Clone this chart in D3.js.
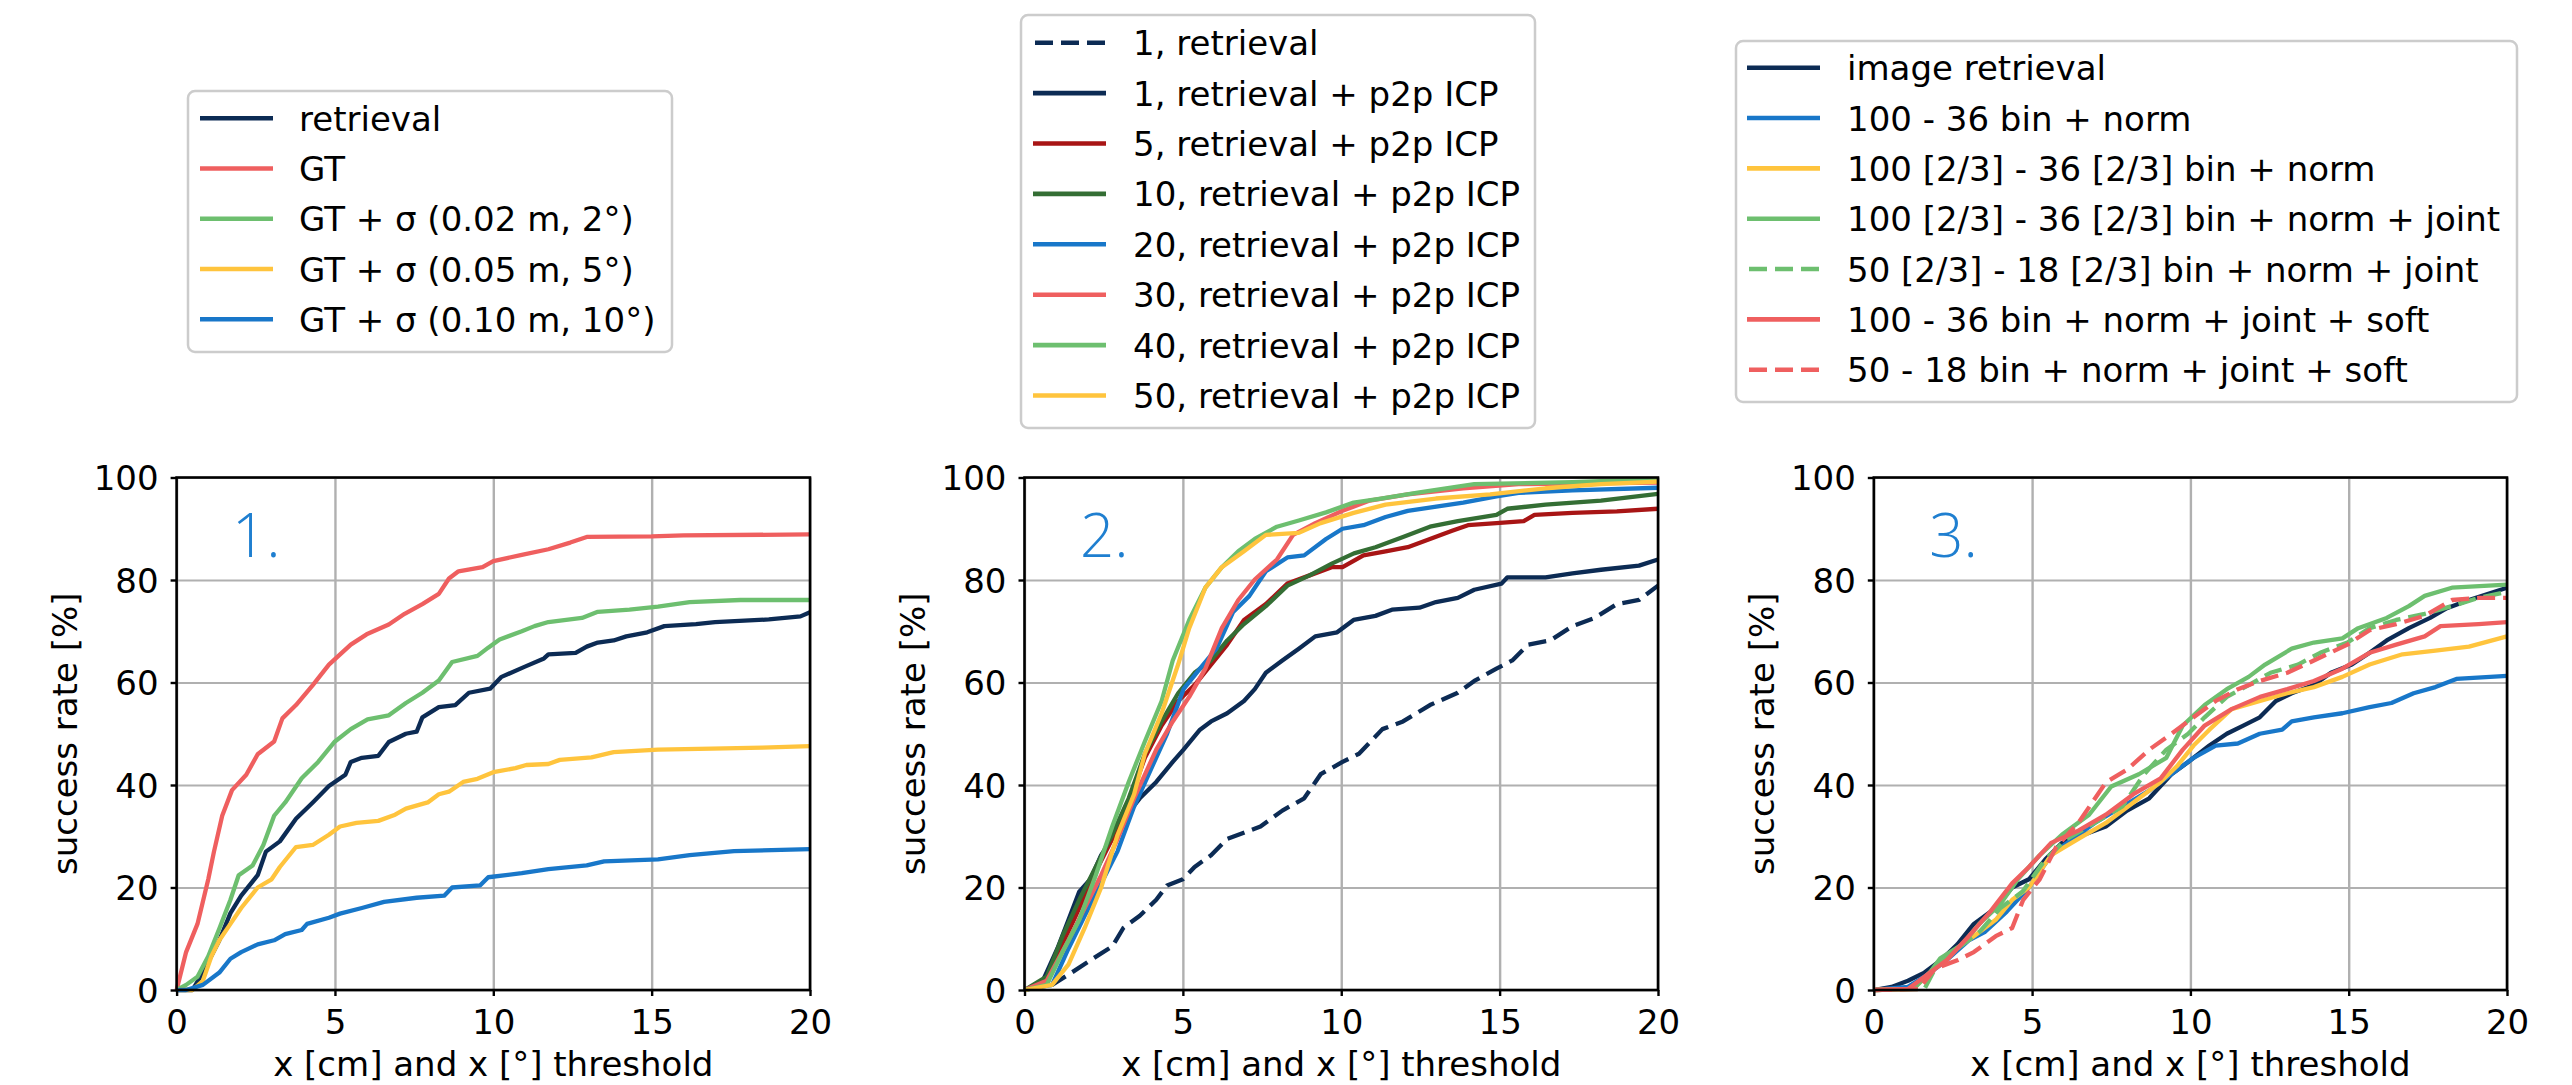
<!DOCTYPE html>
<html>
<head>
<meta charset="utf-8">
<script src="https://cdn.jsdelivr.net/npm/d3@7"></script>
<style>
  html, body { margin: 0; padding: 0; background: #fff; }
  svg { display: block; }
</style>
</head>
<body>
<div id="chart"></div>
<script>
// ---- data ----
const xTicks = [0, 5, 10, 15, 20];
const yTicks = [0, 20, 40, 60, 80, 100];
const xLabel = 'x [cm] and x [°] threshold';
const yLabel = 'success rate [%]';
const panelNames = ['1.', '2.', '3.'];

// panel 1
const p1Retrieval = [[0,0],[0.5,0],[0.83,3.4],[1.35,9.7],[1.7,15],[2.04,18.4],[2.56,22.4],[2.82,27],[3.26,29],[3.77,33.4],[4.3,36.6],[4.81,39.8],[5.33,42],[5.5,44.5],[5.85,45.3],[6.37,45.7],[6.7,48.4],[7.24,50],[7.58,50.4],[7.76,53.2],[8.28,55.2],[8.8,55.6],[9.23,58],[9.9,58.8],[10.26,61.1],[11.0,63.1],[11.6,64.7],[11.74,65.5],[12.6,65.8],[12.95,67],[13.3,67.8],[13.8,68.2],[14.2,69],[14.86,69.8],[15.4,71],[16.4,71.4],[17,71.8],[18.7,72.3],[19.7,72.9],[20,73.7]];
const p1GT = [[0,0],[0.3,7.4],[0.66,12.9],[1.0,21.6],[1.18,27],[1.44,34],[1.75,39],[2.2,42],[2.56,46],[3.08,48.5],[3.34,53],[3.77,55.6],[4.3,59.5],[4.81,63.5],[5.5,67.4],[6.0,69.4],[6.7,71.3],[7.2,73.4],[7.76,75.3],[8.28,77.3],[8.6,80.3],[8.9,81.7],[9.66,82.5],[10,83.7],[10.9,84.9],[11.74,86],[12.43,87.3],[12.95,88.4],[15,88.5],[16,88.7],[20,88.9]];
const p1Sigma2 = [[0,0],[0.3,1],[0.66,2.6],[1.0,6.6],[1.35,12],[1.7,17.6],[1.96,22.4],[2.4,24.3],[2.74,28.3],[3.08,34],[3.43,36.6],[3.95,41.3],[4.47,44.5],[5.0,48.5],[5.5,50.9],[6.03,52.8],[6.7,53.6],[7.24,56],[7.76,58],[8.28,60.4],[8.7,64],[9.5,65.2],[9.84,66.8],[10.2,68.4],[10.9,70],[11.3,71],[11.74,71.8],[12.8,72.6],[13.3,73.8],[14.3,74.2],[15.2,74.8],[16.2,75.7],[17.8,76.1],[20,76.1]];
const p1Sigma5 = [[0,0],[0.5,0],[0.83,1.8],[1.1,6.6],[1.35,9.7],[1.7,12.9],[2.04,16],[2.56,20],[3.0,21.6],[3.26,24],[3.77,27.9],[4.3,28.3],[4.81,30.3],[5.16,31.9],[5.68,32.6],[6.37,33],[6.9,34.2],[7.24,35.4],[7.93,36.6],[8.28,38.2],[8.6,38.7],[9.05,40.6],[9.5,41.2],[10.0,42.5],[10.7,43.3],[11.04,43.9],[11.74,44.1],[12.1,44.9],[13.1,45.4],[13.8,46.4],[15.2,46.9],[16.9,47.1],[18.5,47.3],[20,47.6]];
const p1Sigma10 = [[0,0],[0.3,0],[0.83,1],[1.35,3.4],[1.7,6.1],[2.04,7.4],[2.56,8.9],[3.08,9.7],[3.43,10.9],[3.95,11.7],[4.12,12.9],[4.81,14.1],[5.16,14.9],[5.85,16],[6.55,17.2],[7.58,18],[8.45,18.4],[8.7,20],[9.58,20.4],[9.84,22],[10.9,22.8],[11.74,23.6],[12.95,24.3],[13.5,25.1],[15.2,25.5],[16.2,26.3],[17.6,27.1],[20,27.5]];

// panel 2
const p2Ret1 = [[0,0],[0.87,1],[1.39,3],[2.08,5.8],[2.77,8.5],[3.12,12.1],[3.64,14.5],[4.16,17.6],[4.5,20.4],[5.0,21.6],[5.37,24],[5.89,26.3],[6.4,29.5],[7.45,31.9],[8.14,35],[8.83,37.4],[9.35,42.1],[10.04,44.5],[10.56,46.1],[11.3,50.9],[11.95,52.4],[12.8,55.6],[13.68,58],[14.2,60.3],[14.9,62.7],[15.4,64.3],[15.9,67.4],[16.6,68.2],[17.3,71],[18,72.6],[18.7,75.3],[19.4,76.1],[20,78.9]];
const p2Icp1 = [[0,0],[0.52,1],[1.04,8.1],[1.39,13.7],[1.73,19.2],[2.08,21.6],[2.42,26.3],[2.77,29.5],[3.12,33.4],[3.64,37.4],[4.16,40.6],[4.68,44.5],[5.02,46.9],[5.54,50.8],[5.89,52.4],[6.4,54],[6.93,56.4],[7.27,58.7],[7.62,61.9],[8.14,64.3],[8.66,66.6],[9.18,69],[9.87,69.8],[10.39,72.2],[11.08,73],[11.6,74.2],[12.47,74.6],[12.99,75.7],[13.68,76.5],[14.2,78.1],[15.06,79.3],[15.24,80.5],[16.45,80.5],[17.3,81.3],[18.2,82],[19.4,82.8],[20,84]];
const p2Icp5 = [[0,0],[0.7,1],[1.2,8.9],[1.73,16],[2.25,23.1],[2.77,29.5],[3.29,36.6],[3.8,45.3],[4.33,51.6],[4.85,56.4],[5.37,59.5],[5.89,63.5],[6.4,67.4],[6.93,72.2],[7.62,75.3],[8.3,79.3],[9.0,80.9],[9.7,82.5],[10.04,82.5],[10.7,84.8],[11.4,85.6],[12.1,86.4],[12.8,88],[13.5,89.6],[14,90.7],[14.9,91.1],[15.76,91.5],[16.1,92.7],[17.3,93.1],[18.7,93.4],[20,93.9]];
const p2Icp10 = [[0,0],[0.7,2.6],[1.2,10.5],[1.73,17.6],[2.25,24],[2.77,30.3],[3.29,37.4],[3.8,46.1],[4.33,52.4],[4.85,57.9],[5.37,61.9],[5.89,64.3],[6.4,68.2],[6.93,71.4],[7.62,74.9],[8.3,78.9],[9,80.9],[9.7,83.2],[10.4,85.2],[11.08,86.4],[11.95,88.4],[12.8,90.4],[13.68,91.5],[14.9,92.7],[15.24,93.9],[16.45,94.7],[18.2,95.5],[20,96.8]];
const p2Icp20 = [[0,0],[0.87,1],[1.39,8.1],[1.9,14.5],[2.42,20.8],[2.94,27.1],[3.46,35.8],[3.98,42.9],[4.5,50],[5.02,58.7],[5.54,62.7],[6.06,66.6],[6.58,73.7],[7.1,76.9],[7.62,81.7],[8.3,84.4],[8.83,84.8],[9.52,88],[10.04,90],[10.7,90.7],[11.4,92.3],[12.1,93.5],[13,94.3],[13.85,95.1],[14.9,96.3],[15.6,97],[17.3,97.5],[20,98]];
const p2Icp30 = [[0,0],[0.7,1.8],[1.39,9.7],[1.9,16],[2.42,22.4],[2.94,29.5],[3.46,37.4],[4.16,46.9],[4.68,52.4],[5.2,57.2],[5.71,62.7],[6.23,70.6],[6.75,76.1],[7.27,80.1],[7.97,84],[8.48,88.8],[9.18,91.1],[10.04,93.5],[10.9,95.5],[12.1,96.7],[13.85,97.9],[15.6,98.7],[20,99]];
const p2Icp40 = [[0,0],[0.7,1],[1.2,7.4],[1.73,13.7],[2.25,22.4],[2.77,31.9],[3.29,40.6],[3.8,48.5],[4.33,56.4],[4.68,64.3],[5.2,72.2],[5.71,78.5],[6.23,82.5],[6.75,85.6],[7.27,88],[7.97,90.4],[8.66,91.6],[9.52,93.2],[10.39,95.1],[11.25,95.9],[12.47,97.1],[14.2,98.7],[17.3,99.1],[20,99.7]];
const p2Icp50 = [[0,0],[0.87,1],[1.39,5],[1.9,12.1],[2.42,20],[2.94,30.3],[3.46,38.2],[3.8,46.1],[4.33,54],[4.85,63.5],[5.2,70.6],[5.71,78.5],[6.23,82.5],[6.93,85.6],[7.62,88.8],[8.66,89.2],[9.35,91.1],[10.39,93.1],[11.4,94.7],[12.99,95.9],[14.7,96.7],[16.45,97.9],[18.2,98.7],[20,99.2]];

// panel 3
const p3Image = [[0,0],[0.56,0.6],[1.08,1.8],[1.6,3.4],[2.12,5.8],[2.64,8.9],[3.16,12.9],[3.85,16],[4.37,20],[4.9,21.6],[5.42,25.5],[5.94,28.7],[6.63,30.3],[7.33,31.9],[8.0,35],[8.7,37.4],[9.4,42.1],[9.93,44.5],[10.6,47.7],[11.15,50],[11.67,51.6],[12.19,53.2],[12.7,56.4],[13.2,57.9],[13.9,59.5],[14.44,61.9],[15.1,63.5],[15.66,65.8],[16.2,68.2],[16.9,70.6],[17.57,72.6],[18.1,74.5],[18.8,76.1],[20,78.5]];
const p3Bin100 = [[0,0],[1.08,0.6],[1.6,2.6],[2.3,5.8],[3.0,9.7],[3.5,11.3],[4.2,15.3],[4.9,20],[5.6,26.3],[6.28,29.5],[6.98,32.6],[7.85,35.8],[8.7,38.9],[9.58,42.9],[10.1,45.3],[10.8,47.7],[11.5,48.1],[12.19,50],[12.9,50.8],[13.2,52.4],[13.9,53.2],[14.8,54],[15.66,55.2],[16.35,56],[17.05,57.9],[17.74,59.1],[18.4,60.7],[20,61.3]];
const p3Bin100r = [[0,0],[1.25,0.2],[1.77,3.4],[2.46,7.4],[3.16,10.5],[3.85,13.7],[4.37,17.6],[4.9,20],[5.6,26.3],[6.46,29.5],[7.33,32.6],[8.2,36.6],[9.06,40.6],[9.58,43.7],[10.1,47.7],[10.6,50.8],[11.3,54.8],[12.2,56.4],[13.06,57.9],[13.9,59.1],[14.8,61.1],[15.66,63.5],[16.7,65.5],[17.74,66.2],[18.8,67],[20,69]];
const p3Joint100r = [[0,0],[1.25,0.2],[1.77,3.4],[2.1,6.2],[2.8,8.9],[3.33,12.9],[4.0,16.8],[4.55,21.6],[5.24,26.3],[5.94,30.3],[6.8,34.2],[7.5,39.7],[8.37,42.1],[9.24,45.3],[9.76,51.6],[10.45,55.6],[11.15,58.7],[11.84,61.1],[12.36,63.5],[13.2,66.6],[13.9,67.8],[14.8,68.6],[15.3,70.6],[16.2,72.6],[16.9,74.9],[17.4,76.9],[18.26,78.5],[20,79.1]];
const p3Joint50r = [[0,0],[1.6,0.2],[1.94,4.2],[2.64,8.1],[3.33,11.3],[4.0,16],[4.7,19.2],[5.42,25.5],[6.1,29.5],[6.98,32.6],[7.85,35.8],[8.54,42.1],[9.24,46.9],[9.93,50],[10.45,53.2],[11.15,57.2],[11.84,59.5],[12.53,61.9],[13.4,63.5],[14.1,65.8],[14.96,67.8],[15.66,70.6],[16.5,72.2],[17.4,73.4],[18.26,74.9],[19.1,76.5],[20,77.7]];
const p3Soft100 = [[0,0],[1.08,0.2],[1.6,2.6],[2.3,5.8],[3.0,10.5],[3.68,15.3],[4.37,20.8],[4.9,24],[5.6,28.7],[6.46,31.1],[7.33,34.2],[8.2,38.2],[9.06,41.3],[9.76,46.9],[10.45,51.6],[11.3,54.8],[12.2,57.2],[13.06,58.7],[13.9,60.3],[14.8,62.7],[15.66,65.8],[16.5,67.4],[17.4,69],[17.9,71],[19.1,71.4],[20,71.8]];
const p3Soft50 = [[0,0],[1.42,0.2],[1.94,4.2],[2.64,5.8],[3.16,7.4],[3.85,10.5],[4.37,12.1],[4.72,17.6],[5.24,21.6],[5.76,27.9],[6.46,32.6],[7.33,40.5],[8.0,43],[8.7,46.9],[9.4,50],[10.1,53.2],[10.8,56.4],[11.5,58.7],[12.19,60.3],[13.06,61.9],[13.9,64.3],[14.96,67.4],[15.66,70.2],[16.5,71.4],[17.4,73],[18.26,76.1],[19.1,76.5],[20,76.5]];

// legend labels per panel
const labels1 = ['retrieval', 'GT', 'GT + σ (0.02 m, 2°)', 'GT + σ (0.05 m, 5°)', 'GT + σ (0.10 m, 10°)'];
const labels2 = ['1, retrieval', '1, retrieval + p2p ICP', '5, retrieval + p2p ICP', '10, retrieval + p2p ICP',
                 '20, retrieval + p2p ICP', '30, retrieval + p2p ICP', '40, retrieval + p2p ICP', '50, retrieval + p2p ICP'];
const labels3 = ['image retrieval', '100 - 36 bin + norm', '100 [2/3] - 36 [2/3] bin + norm',
                 '100 [2/3] - 36 [2/3] bin + norm + joint', '50 [2/3] - 18 [2/3] bin + norm + joint',
                 '100 - 36 bin + norm + joint + soft', '50 - 18 bin + norm + joint + soft'];

// ---- styling ----
const C = {
  navy: '#0c2b54', coral: '#ef5f5f', green: '#6dbf6f', yellow: '#ffc43d',
  blue: '#1877c9', darkRed: '#a81515', darkGreen: '#346e34'
};
const FONT = 'DejaVu Sans, sans-serif';
const FS = 34;
const W = 2572, H = 1085;
const AX_TOP = 477.5, AX_BOTTOM = 990;
const DASH = '18,8';

const panels = [
  { left: 176.6, right: 810, name: panelNames[0],
    series: [
      { data: p1Retrieval, color: C.navy },
      { data: p1GT, color: C.coral },
      { data: p1Sigma2, color: C.green },
      { data: p1Sigma5, color: C.yellow },
      { data: p1Sigma10, color: C.blue },
    ],
    labels: labels1,
    legend: { x0: 188, x1: 672, y0: 91, y1: 352, row0: 118.3, step: 50.25, hx0: 200, hx1: 273, tx: 299 } },
  { left: 1024.5, right: 1658, name: panelNames[1],
    series: [
      { data: p2Ret1, color: C.navy, dash: true },
      { data: p2Icp1, color: C.navy },
      { data: p2Icp5, color: C.darkRed },
      { data: p2Icp10, color: C.darkGreen },
      { data: p2Icp20, color: C.blue },
      { data: p2Icp30, color: C.coral },
      { data: p2Icp40, color: C.green },
      { data: p2Icp50, color: C.yellow },
    ],
    labels: labels2,
    legend: { x0: 1021, x1: 1535, y0: 15, y1: 428, row0: 42.7, step: 50.4, hx0: 1033, hx1: 1106, tx: 1133 } },
  { left: 1873.8, right: 2507, name: panelNames[2],
    series: [
      { data: p3Image, color: C.navy },
      { data: p3Bin100, color: C.blue },
      { data: p3Bin100r, color: C.yellow },
      { data: p3Joint100r, color: C.green },
      { data: p3Joint50r, color: C.green, dash: true },
      { data: p3Soft100, color: C.coral },
      { data: p3Soft50, color: C.coral, dash: true },
    ],
    labels: labels3,
    legend: { x0: 1736, x1: 2517, y0: 41, y1: 402, row0: 67.7, step: 50.33, hx0: 1747, hx1: 1820, tx: 1847 } },
];

const svg = d3.select('#chart').append('svg')
  .attr('width', W).attr('height', H)
  .attr('font-family', FONT);

svg.append('rect').attr('width', W).attr('height', H).attr('fill', '#fff');

panels.forEach((p, pi) => {
  const x = d3.scaleLinear().domain([0, 20]).range([p.left, p.right]);
  const y = d3.scaleLinear().domain([0, 100]).range([AX_BOTTOM, AX_TOP]);
  const g = svg.append('g');

  // grid
  g.append('g')
    .attr('transform', `translate(0,${AX_BOTTOM})`)
    .call(d3.axisBottom(x).tickValues(xTicks).tickSize(-(AX_BOTTOM - AX_TOP)).tickFormat(''))
    .call(s => s.select('.domain').remove())
    .selectAll('line').attr('stroke', '#b0b0b0').attr('stroke-width', 2.4);
  g.append('g')
    .attr('transform', `translate(${p.left},0)`)
    .call(d3.axisLeft(y).tickValues(yTicks).tickSize(-(p.right - p.left)).tickFormat(''))
    .call(s => s.select('.domain').remove())
    .selectAll('line').attr('stroke', '#b0b0b0').attr('stroke-width', 2.2);

  // curves
  const line = d3.line().x(d => x(d[0])).y(d => y(d[1]));
  p.series.forEach(s => {
    g.append('path')
      .datum(s.data)
      .attr('d', line)
      .attr('fill', 'none')
      .attr('stroke', s.color)
      .attr('stroke-width', 4.3)
      .attr('stroke-linejoin', 'round')
      .attr('stroke-dasharray', s.dash ? DASH : null);
  });

  // spines
  g.append('rect')
    .attr('x', p.left).attr('y', AX_TOP)
    .attr('width', p.right - p.left).attr('height', AX_BOTTOM - AX_TOP)
    .attr('fill', 'none').attr('stroke', '#000').attr('stroke-width', 2.6);

  // axes
  const xa = g.append('g')
    .attr('transform', `translate(0,${AX_BOTTOM})`)
    .call(d3.axisBottom(x).tickValues(xTicks).tickSize(6).tickPadding(14).tickSizeOuter(0));
  const ya = g.append('g')
    .attr('transform', `translate(${p.left},0)`)
    .call(d3.axisLeft(y).tickValues(yTicks).tickSize(6).tickPadding(12).tickSizeOuter(0));
  [xa, ya].forEach(a => {
    a.attr('font-size', FS).attr('font-family', FONT);
    a.select('.domain').remove();
    a.selectAll('line').attr('stroke', '#000').attr('stroke-width', 2.4);
    a.selectAll('text').attr('fill', '#000');
  });
  ya.selectAll('text').attr('dy', '0.36em');

  // axis labels
  g.append('text')
    .attr('x', (p.left + p.right) / 2).attr('y', AX_BOTTOM + 86)
    .attr('text-anchor', 'middle').attr('font-size', FS)
    .text(xLabel);
  g.append('text')
    .attr('transform', `translate(${p.left - 100},${(AX_TOP + AX_BOTTOM) / 2}) rotate(-90)`)
    .attr('text-anchor', 'middle').attr('font-size', FS)
    .text(yLabel);

  // panel number
  g.append('text')
    .attr('x', x(1.75)).attr('y', y(84.5))
    .attr('font-family', 'Open Sans, Lato, sans-serif').attr('font-weight', 300)
    .attr('font-size', 60).attr('fill', '#1f7fd0')
    .text(p.name);

  // legend
  const L = p.legend;
  const lg = svg.append('g');
  lg.append('rect')
    .attr('x', L.x0).attr('y', L.y0)
    .attr('width', L.x1 - L.x0).attr('height', L.y1 - L.y0)
    .attr('rx', 7).attr('fill', '#fff')
    .attr('stroke', '#cccccc').attr('stroke-width', 2.5);
  p.series.forEach((s, i) => {
    const cy = L.row0 + i * L.step;
    lg.append('line')
      .attr('x1', L.hx0 + (s.dash ? 2 : 0)).attr('x2', L.hx1)
      .attr('y1', cy).attr('y2', cy)
      .attr('stroke', s.color).attr('stroke-width', 4.6)
      .attr('stroke-dasharray', s.dash ? DASH : null);
    lg.append('text')
      .attr('x', L.tx).attr('y', cy + 12.5)
      .attr('font-size', FS).attr('fill', '#000')
      .text(p.labels[i]);
  });
});
</script>
</body>
</html>
